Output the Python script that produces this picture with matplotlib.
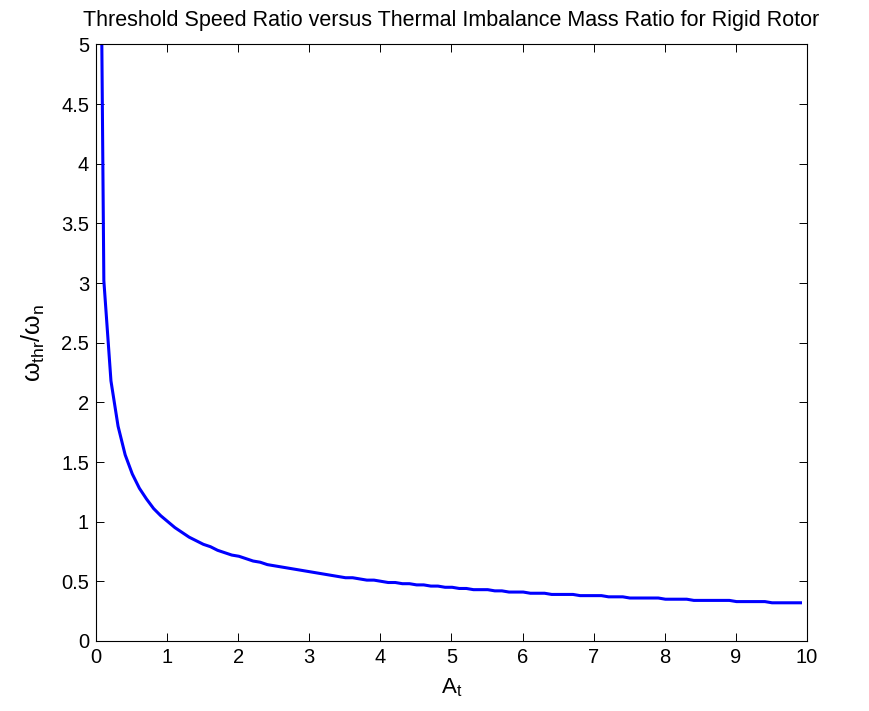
import numpy as np
import matplotlib
matplotlib.use("Agg")
import matplotlib.pyplot as plt

plt.rcParams['font.family'] = ['Liberation Sans', 'DejaVu Sans']
plt.rcParams['mathtext.fontset'] = 'custom'
plt.rcParams['mathtext.rm'] = 'Liberation Sans'
plt.rcParams['mathtext.it'] = 'Liberation Sans'

# thermal imbalance mass ratio A_t (0.01:0.1:9.91)
A_t = [0.01, 0.11, 0.21, 0.31, 0.41, 0.51, 0.61, 0.71, 0.81, 0.91,
       1.01, 1.11, 1.21, 1.31, 1.41, 1.51, 1.61, 1.71, 1.81, 1.91,
       2.01, 2.11, 2.21, 2.31, 2.41, 2.51, 2.61, 2.71, 2.81, 2.91,
       3.01, 3.11, 3.21, 3.31, 3.41, 3.51, 3.61, 3.71, 3.81, 3.91,
       4.01, 4.11, 4.21, 4.31, 4.41, 4.51, 4.61, 4.71, 4.81, 4.91,
       5.01, 5.11, 5.21, 5.31, 5.41, 5.51, 5.61, 5.71, 5.81, 5.91,
       6.01, 6.11, 6.21, 6.31, 6.41, 6.51, 6.61, 6.71, 6.81, 6.91,
       7.01, 7.11, 7.21, 7.31, 7.41, 7.51, 7.61, 7.71, 7.81, 7.91,
       8.01, 8.11, 8.21, 8.31, 8.41, 8.51, 8.61, 8.71, 8.81, 8.91,
       9.01, 9.11, 9.21, 9.31, 9.41, 9.51, 9.61, 9.71, 9.81, 9.91]

# threshold speed ratio w_thr / w_n
speed_ratio = [10.0, 3.02, 2.18, 1.80, 1.56, 1.40, 1.28, 1.19, 1.11, 1.05,
               1.00, 0.95, 0.91, 0.87, 0.84, 0.81, 0.79, 0.76, 0.74, 0.72,
               0.71, 0.69, 0.67, 0.66, 0.64, 0.63, 0.62, 0.61, 0.60, 0.59,
               0.58, 0.57, 0.56, 0.55, 0.54, 0.53, 0.53, 0.52, 0.51, 0.51,
               0.50, 0.49, 0.49, 0.48, 0.48, 0.47, 0.47, 0.46, 0.46, 0.45,
               0.45, 0.44, 0.44, 0.43, 0.43, 0.43, 0.42, 0.42, 0.41, 0.41,
               0.41, 0.40, 0.40, 0.40, 0.39, 0.39, 0.39, 0.39, 0.38, 0.38,
               0.38, 0.38, 0.37, 0.37, 0.37, 0.36, 0.36, 0.36, 0.36, 0.36,
               0.35, 0.35, 0.35, 0.35, 0.34, 0.34, 0.34, 0.34, 0.34, 0.34,
               0.33, 0.33, 0.33, 0.33, 0.33, 0.32, 0.32, 0.32, 0.32, 0.32]

fig = plt.figure(figsize=(8.69, 7.11), dpi=100)
ax = fig.add_axes([0.1105, 0.0985, 0.818, 0.839])

ax.plot(A_t, speed_ratio, color='#0000ff', linewidth=2.2)

ax.set_xlim(0, 10)
ax.set_ylim(0, 5)
ax.set_xticks(np.arange(0, 11, 1))
ax.set_yticks(np.arange(0, 5.5, 0.5))
ax.set_yticklabels(['0', '0.5', '1', '1.5', '2', '2.5', '3', '3.5', '4', '4.5', '5'])

ax.tick_params(direction='in', length=6, width=0.7, top=True, right=True,
               labelsize=14.5, pad=5)
for s in ax.spines.values():
    s.set_linewidth(0.8)

ax.set_title('Threshold Speed Ratio versus Thermal Imbalance Mass Ratio for Rigid Rotor',
             fontsize=15.5, pad=13)
ax.set_xlabel(r'$\mathrm{A}_{\mathrm{t}}$', fontsize=16, labelpad=7)
ax.set_ylabel(r'$\omega_{\mathrm{thr}}/\omega_{\mathrm{n}}$', fontsize=18, labelpad=10)

fig.savefig('out.png', dpi=100)
